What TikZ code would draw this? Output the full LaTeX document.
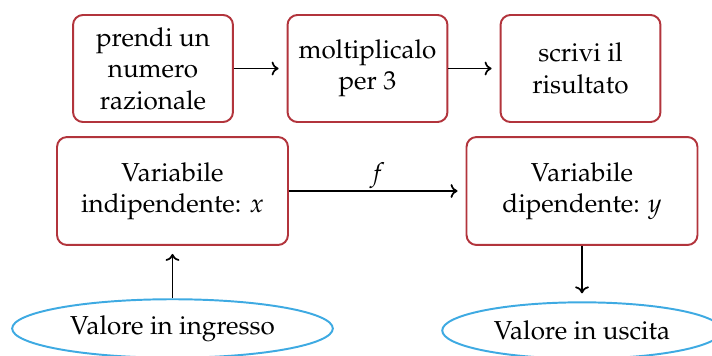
\documentclass[tikz,border=0pt,12pt]{standalone}
\usepackage[T1]{fontenc}
\usepackage{mathpazo}
\usetikzlibrary{shapes.geometric, arrows.meta}
\definecolor{boxred}{RGB}{178,52,60}
\definecolor{ellblue}{RGB}{62,170,226}
\tikzset{
  stepbox/.style={draw=boxred, line width=0.9pt, rounded corners=4.6pt, align=center, inner sep=0pt},
  valell/.style={ellipse, draw=ellblue, line width=0.9pt, inner sep=0pt},
  conn/.style={-{To[length=3.2pt, width=6.4pt]}, line width=0.8pt, shorten >=3.7pt}
}
\begin{document}
\begin{tikzpicture}[x=0.4615pt, y=-0.4615pt]
\useasboundingbox (0,0) rectangle (712,356);
\node[stepbox, minimum width=73.8pt, minimum height=49.4pt] (b1) at (153,68.5) {prendi un\\numero\\razionale};
\node[stepbox, minimum width=73.8pt, minimum height=49.4pt] (b2) at (367.5,68.5) {moltiplicalo\\per 3};
\node[stepbox, minimum width=73.8pt, minimum height=49.4pt] (b3) at (580.5,68.5) {scrivi il\\risultato};
\node[stepbox, minimum width=106.6pt, minimum height=49.8pt] (b4) at (172.5,191) {Variabile\\indipendente: $x$};
\node[stepbox, minimum width=106.6pt, minimum height=49.8pt] (b5) at (582,191) {Variabile\\dipendente: $y$};
\node[valell, minimum width=148pt, minimum height=27pt] (e1) at (172.5,328.5) {Valore in ingresso};
\node[valell, minimum width=129pt, minimum height=26pt] (e2) at (582,330.5) {Valore in uscita};
\draw[conn] (b1.east) -- (b2.west);
\draw[conn] (b2.east) -- (b3.west);
\draw[conn] (b4.east) -- node[anchor=base, inner sep=0pt, yshift=4.2pt] (fl) {$f$} (b5.west);
\draw[conn] (e1.north) -- (b4.south);
\draw[conn] (b5.south) -- (e2.north);
\end{tikzpicture}
\end{document}
